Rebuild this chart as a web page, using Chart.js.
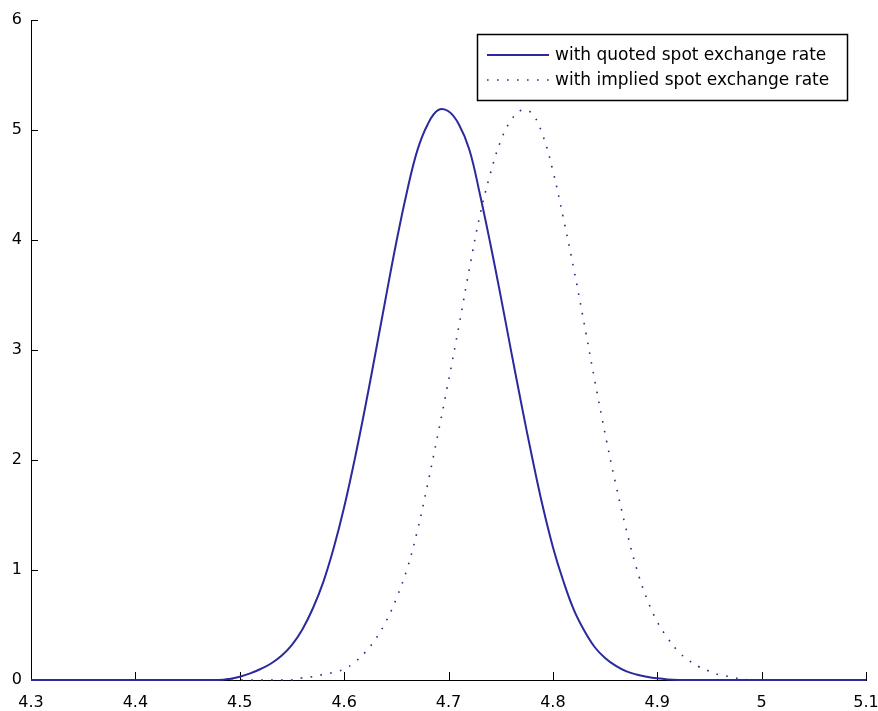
<!DOCTYPE html>
<html>
<head>
<meta charset="utf-8">
<script src="https://cdn.jsdelivr.net/npm/chart.js@4/dist/chart.umd.min.js"></script>
<style>
  html, body { margin: 0; padding: 0; background: #ffffff; }
  #wrap { width: 878px; height: 711px; position: relative; }
</style>
</head>
<body>
<div id="wrap"><canvas id="c" width="878" height="711"></canvas></div>
<script>
// ---- data ----
const xValues = [4.30, 4.40, 4.48, 4.49, 4.50, 4.51, 4.52, 4.53, 4.54, 4.55, 4.56, 4.57, 4.58, 4.59,
  4.60, 4.61, 4.62, 4.63, 4.64, 4.65, 4.66, 4.67, 4.68, 4.69, 4.70, 4.71, 4.72, 4.73, 4.74, 4.75,
  4.76, 4.77, 4.78, 4.79, 4.80, 4.81, 4.82, 4.83, 4.84, 4.85, 4.86, 4.87, 4.88, 4.89, 4.90, 4.91,
  4.92, 4.93, 4.94, 4.95, 4.96, 4.97, 4.98, 4.99, 5.00, 5.10];

const quotedValues = [0, 0, 0, 0.01, 0.03, 0.06, 0.10, 0.15, 0.22, 0.32, 0.46, 0.65, 0.89, 1.20,
  1.57, 2.00, 2.47, 2.97, 3.48, 3.98, 4.43, 4.81, 5.05, 5.18, 5.17, 5.05, 4.82, 4.42, 3.97, 3.49,
  2.99, 2.50, 2.03, 1.59, 1.21, 0.90, 0.64, 0.45, 0.30, 0.20, 0.13, 0.08, 0.05, 0.03, 0.015, 0.005,
  0, 0, 0, 0, 0, 0, 0, 0, 0, 0];

const impliedValues = [0, 0, 0, 0, 0, 0, 0, 0, 0, 0, 0.02, 0.03, 0.05, 0.07,
  0.10, 0.16, 0.25, 0.37, 0.53, 0.74, 1.00, 1.35, 1.78, 2.24, 2.72, 3.22, 3.74, 4.22, 4.60, 4.90,
  5.09, 5.18, 5.15, 4.96, 4.63, 4.20, 3.74, 3.24, 2.73, 2.24, 1.79, 1.38, 1.02, 0.74, 0.53, 0.38,
  0.26, 0.18, 0.12, 0.08, 0.045, 0.03, 0.01, 0, 0, 0];

const seriesLabels = ['with quoted spot exchange rate', 'with implied spot exchange rate'];

const xTickValues = [4.3, 4.4, 4.5, 4.6, 4.7, 4.8, 4.9, 5.0, 5.1];
const xTickLabels = ['4.3', '4.4', '4.5', '4.6', '4.7', '4.8', '4.9', '5', '5.1'];
const yTickValues = [0, 1, 2, 3, 4, 5, 6];
const yTickLabels = ['0', '1', '2', '3', '4', '5', '6'];

// ---- styling ----
const LINE_COLOR = '#2a2a9c';
const DOT_COLOR = '#2a2a7a';
const FONT_FAMILY = '"DejaVu Sans", Arial, sans-serif';

const toPoints = (ys) => xValues.map((x, i) => ({ x: x, y: ys[i] }));

const matlabAxes = {
  id: 'matlabAxes',
  beforeDatasetsDraw(chart) {
    const ctx = chart.ctx;
    const xs = chart.scales.x, ys = chart.scales.y, a = chart.chartArea;
    ctx.save();
    ctx.strokeStyle = '#000';
    ctx.lineWidth = 1;
    xs.ticks.forEach(t => {
      const px = Math.round(xs.getPixelForValue(t.value)) + 0.5;
      ctx.beginPath(); ctx.moveTo(px, a.bottom); ctx.lineTo(px, a.bottom - 8); ctx.stroke();
    });
    ys.ticks.forEach(t => {
      const py = Math.round(ys.getPixelForValue(t.value)) + 0.5;
      ctx.beginPath(); ctx.moveTo(a.left, py); ctx.lineTo(a.left + 7, py); ctx.stroke();
    });
    ctx.restore();
  },
  afterDatasetsDraw(chart) {
    const ctx = chart.ctx;
    const ds = chart.data.datasets;
    const box = { x: 477.5, y: 34.5, w: 370, h: 66 };
    ctx.save();
    ctx.fillStyle = '#fff';
    ctx.fillRect(box.x, box.y, box.w, box.h);
    ctx.strokeStyle = '#000';
    ctx.lineWidth = 1.5;
    ctx.strokeRect(box.x, box.y, box.w, box.h);
    const rows = [55, 80];
    ds.forEach((d, i) => {
      const y = rows[i];
      ctx.beginPath();
      ctx.strokeStyle = d.borderColor;
      ctx.lineWidth = d.borderWidth;
      ctx.lineCap = d.borderCapStyle || 'butt';
      ctx.setLineDash(d.borderDash || []);
      ctx.moveTo(487, y); ctx.lineTo(549, y); ctx.stroke();
      ctx.setLineDash([]);
      ctx.fillStyle = '#000';
      ctx.font = '17px ' + FONT_FAMILY;
      ctx.textAlign = 'left';
      ctx.textBaseline = 'middle';
      ctx.fillText(d.label, 555, y + 1);
    });
    ctx.restore();
  }
};

new Chart(document.getElementById('c'), {
  type: 'line',
  data: {
    datasets: [
      {
        label: seriesLabels[0],
        data: toPoints(quotedValues),
        borderColor: LINE_COLOR,
        borderWidth: 2,
        pointRadius: 0,
        fill: false,
        tension: 0.4,
        clip: false
      },
      {
        label: seriesLabels[1],
        data: toPoints(impliedValues),
        borderColor: DOT_COLOR,
        borderWidth: 1.6,
        borderDash: [1.6, 8.4],
        borderCapStyle: 'butt',
        pointRadius: 0,
        fill: false,
        tension: 0.4,
        clip: false
      }
    ]
  },
  options: {
    responsive: false,
    animation: false,
    layout: { padding: { top: 20, right: 12, left: 0, bottom: 0 } },
    plugins: {
      legend: { display: false },
      tooltip: { enabled: false },
      title: { display: false }
    },
    scales: {
      x: {
        type: 'linear',
        min: 4.3,
        max: 5.1,
        grid: { display: false, drawTicks: false },
        border: { display: true, color: '#000', width: 1 },
        afterBuildTicks: (s) => { s.ticks = xTickValues.map(v => ({ value: v })); },
        afterFit: (s) => { s.height = 31; s.paddingLeft = 0; s.paddingRight = 0; },
        ticks: {
          color: '#000',
          font: { family: FONT_FAMILY, size: 16 },
          padding: 13,
          maxRotation: 0,
          autoSkip: false,
          callback: (v, i) => xTickLabels[i]
        }
      },
      y: {
        type: 'linear',
        min: 0,
        max: 6,
        grid: { display: false, drawTicks: false },
        border: { display: true, color: '#000', width: 1 },
        afterBuildTicks: (s) => { s.ticks = yTickValues.map(v => ({ value: v })); },
        afterFit: (s) => { s.width = 31; s.paddingTop = 0; s.paddingBottom = 0; },
        ticks: {
          color: '#000',
          font: { family: FONT_FAMILY, size: 16 },
          padding: 9,
          autoSkip: false,
          callback: (v, i) => yTickLabels[i]
        }
      }
    }
  },
  plugins: [matlabAxes]
});
</script>
</body>
</html>
